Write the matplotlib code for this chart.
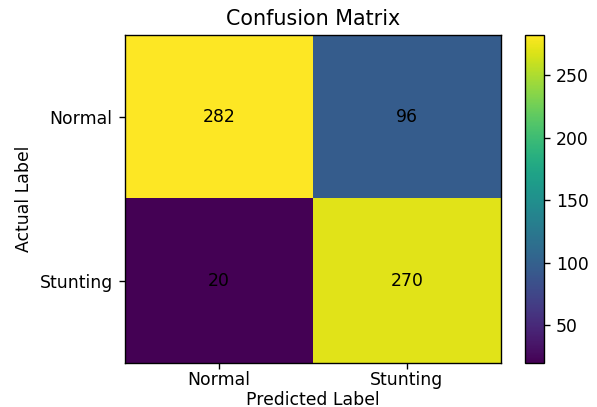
import numpy as np
import matplotlib
matplotlib.use('Agg')
import matplotlib.pyplot as plt

class_names = ['Normal', 'Stunting']
row_normal = [282, 96]
row_stunting = [20, 270]

cm = np.array([row_normal, row_stunting])

DPI = 124
fig = plt.figure(figsize=(597 / DPI, 407 / DPI), dpi=DPI)
ax = fig.add_axes([0.209, 0.108, 0.630, 0.806])
cax = fig.add_axes([0.879, 0.108, 0.032, 0.806])

im = ax.imshow(cm, cmap='viridis', aspect='auto')
fig.colorbar(im, cax=cax)

ax.set_xticks(range(len(class_names)))
ax.set_xticklabels(class_names)
ax.set_yticks(range(len(class_names)))
ax.set_yticklabels(class_names)
ax.tick_params(axis='x', pad=1)

for i in range(cm.shape[0]):
    for j in range(cm.shape[1]):
        ax.text(j, i, str(cm[i, j]), ha='center', va='center', color='black')

ax.set_title('Confusion Matrix', fontsize=12)
ax.set_xlabel('Predicted Label', labelpad=1.5)
ax.set_ylabel('Actual Label')

plt.savefig('out.png', dpi=DPI)
plt.close()
